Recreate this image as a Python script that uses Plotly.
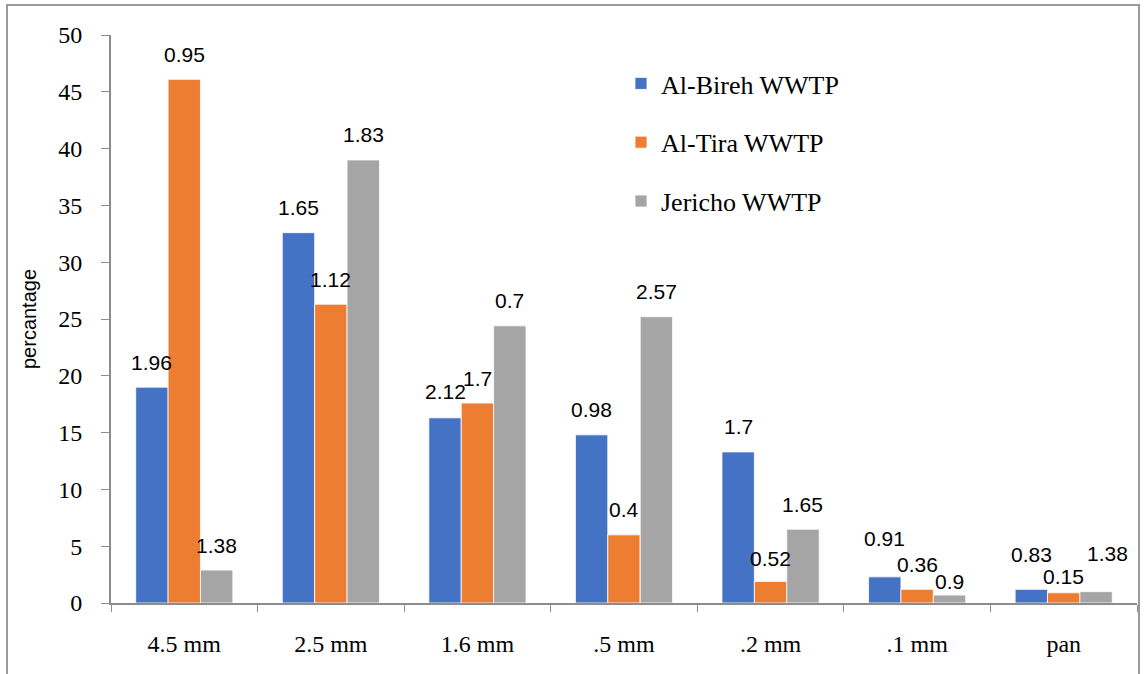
import plotly.graph_objects as go

categories = ["4.5 mm", "2.5 mm", "1.6 mm", ".5 mm", ".2 mm", ".1 mm", "pan"]
series_names = ["Al-Bireh WWTP", "Al-Tira WWTP", "Jericho WWTP"]
al_bireh = [19.0, 32.6, 16.3, 14.8, 13.3, 2.3, 1.2]
al_tira = [46.1, 26.3, 17.6, 6.0, 1.9, 1.2, 0.9]
jericho = [2.9, 39.0, 24.4, 25.2, 6.5, 0.7, 1.0]
# data labels shown above bars (as in the original figure)
al_bireh_lbl = ["1.96", "1.65", "2.12", "0.98", "1.7", "0.91", "0.83"]
al_tira_lbl = ["0.95", "1.12", "1.7", "0.4", "0.52", "0.36", "0.15"]
jericho_lbl = ["1.38", "1.83", "0.7", "2.57", "1.65", "0.9", "1.38"]

colors = ["#4472C4", "#ED7D31", "#A5A5A5"]
SERIF = "Liberation Serif"
SANS = "Liberation Sans"

# layout / style
W, H = 1144, 674
ML, MR, MT, MB = 111, 7, 35, 71
BARGAP = 0.337
plot_w = W - ML - MR
cat_w = plot_w / len(categories)
bar_w = cat_w * (1 - BARGAP) / 3
# label vertical shifts in px (default 25, a few adjusted like the original)
shift_y = [
    [25, 25, 26, 25, 25, 38, 35],
    [25, 25, 25, 25, 23, 25, 16],
    [25, 25, 25, 25, 25, 14, 38],
]
shift_x_extra = [
    [0, 0, 0, 0, 0, 0, 0],
    [0, 0, 0, 0, 0, 0, 0],
    [0, 0, 0, 0, 0, 0, 11],
]

values = [al_bireh, al_tira, jericho]
labels = [al_bireh_lbl, al_tira_lbl, jericho_lbl]

fig = go.Figure()
for i, (name, vals) in enumerate(zip(series_names, values)):
    fig.add_trace(go.Bar(
        x=categories, y=vals, name=name,
        marker=dict(color=colors[i], line=dict(color="white", width=0.8)),
        legendgroup=name,
        hoverinfo="x+y+name",
    ))

annotations = []
for i in range(3):
    for j, c in enumerate(categories):
        annotations.append(dict(
            x=c, y=values[i][j], xref="x", yref="y",
            text=labels[i][j], showarrow=False,
            xshift=(i - 1) * bar_w + shift_x_extra[i][j],
            yshift=shift_y[i][j], yanchor="middle", xanchor="center",
            font=dict(family=SANS, size=21, color="black"),
        ))

# outer chart border
shapes = [dict(
    type="rect", xref="paper", yref="paper",
    x0=(7 - ML) / plot_w, x1=(1139 - ML) / plot_w,
    y0=(H - MB - 690) / (H - MT - MB), y1=(H - MB - 5) / (H - MT - MB),
    line=dict(color="#9a9a9a", width=2), fillcolor="rgba(0,0,0,0)", layer="below",
)]

fig.update_layout(
    width=W, height=H,
    margin=dict(l=ML, r=MR, t=MT, b=MB),
    paper_bgcolor="white", plot_bgcolor="white",
    barmode="group", bargap=BARGAP, bargroupgap=0,
    annotations=annotations, shapes=shapes,
    showlegend=True,
    legend=dict(
        x=(621 - ML) / plot_w, y=(H - MB - 60) / (H - MT - MB),
        xanchor="left", yanchor="top",
        font=dict(family=SERIF, size=26, color="black"),
        traceorder="grouped", tracegroupgap=22,
        bgcolor="rgba(0,0,0,0)",
    ),
    xaxis=dict(
        type="category", showline=True, linecolor="#8c8c8c", linewidth=2,
        ticks="outside", tickson="boundaries", ticklen=7, tickcolor="#8c8c8c", tickwidth=1,
        tickfont=dict(family=SERIF, size=24, color="black"),
        ticklabelstandoff=18, showgrid=False, zeroline=False, fixedrange=True,
    ),
    yaxis=dict(
        range=[0, 50], tickvals=list(range(0, 51, 5)),
        showline=True, linecolor="#8c8c8c", linewidth=2,
        ticks="outside", ticklen=8, tickcolor="#8c8c8c", tickwidth=1,
        tickfont=dict(family=SERIF, size=24, color="black"),
        ticklabelstandoff=14, showgrid=False, zeroline=False,
        title=dict(text="percantage", standoff=16,
                   font=dict(family=SANS, size=20, color="black")),
        fixedrange=True,
    ),
)

fig.write_html("out.html")
